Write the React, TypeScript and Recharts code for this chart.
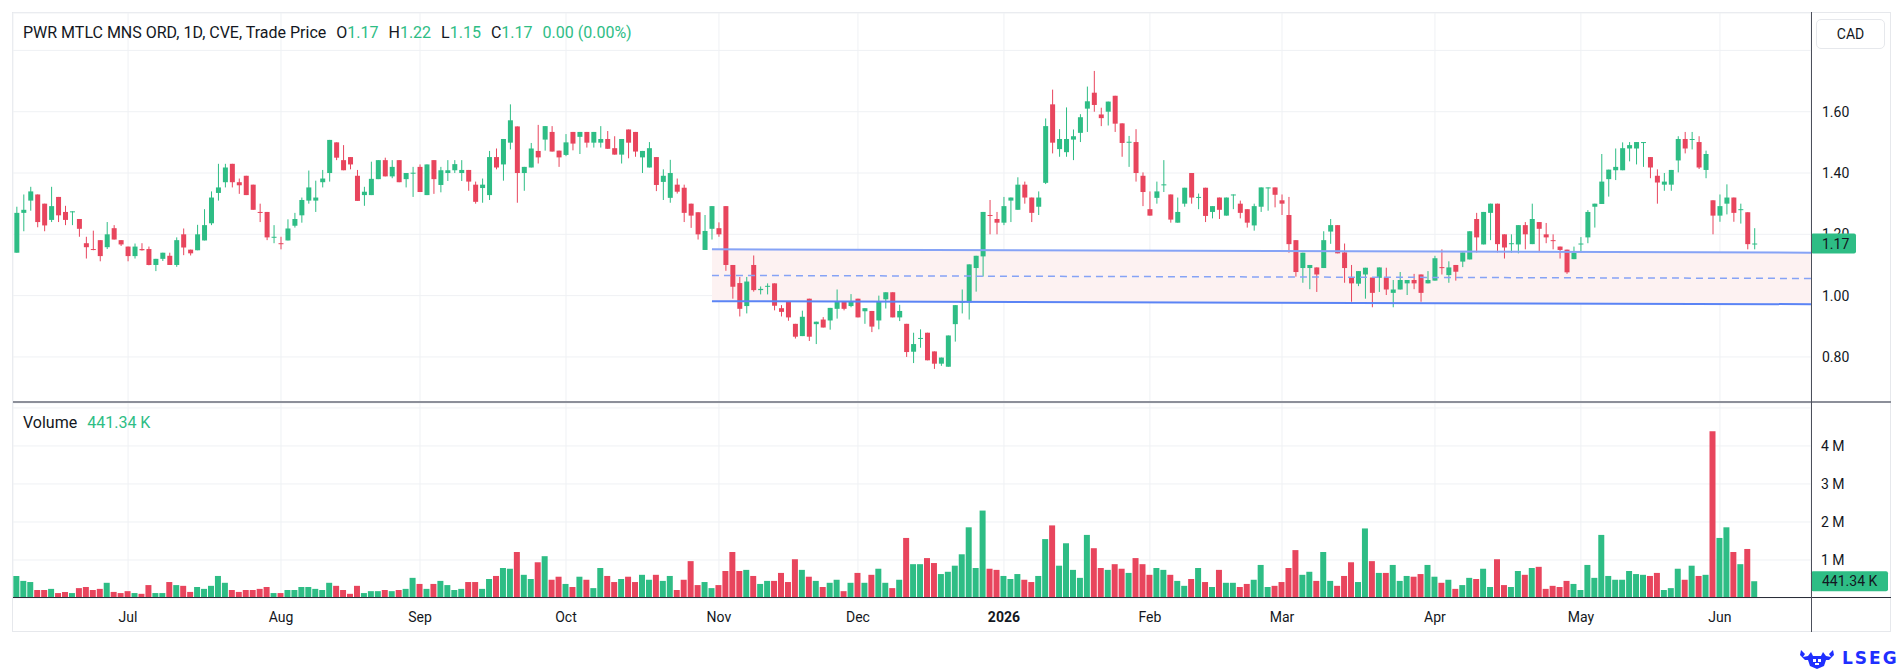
import { ComposedChart, Bar, Area, Line, XAxis, YAxis, CartesianGrid, ReferenceLine, Cell } from 'recharts'

// daily candles, index 0 = first bar on the left
const opens = [
  1.14, 1.27, 1.31, 1.33, 1.30, 1.247, 1.322, 1.273, 1.272, 1.25,
  1.171, 1.152, 1.181, 1.158, 1.22, 1.181, 1.16, 1.129, 1.152, 1.152,
  1.10, 1.12, 1.13, 1.10, 1.20, 1.15, 1.148, 1.18, 1.236, 1.335,
  1.37, 1.43, 1.37, 1.391, 1.362, 1.273, 1.273, 1.19, 1.171, 1.18,
  1.228, 1.262, 1.31, 1.31, 1.37, 1.40, 1.50, 1.442, 1.452, 1.391,
  1.328, 1.328, 1.38, 1.442, 1.389, 1.442, 1.38, 1.399, 1.42, 1.328,
  1.442, 1.361, 1.40, 1.409, 1.40, 1.41, 1.362, 1.351, 1.328, 1.452,
  1.428, 1.499, 1.552, 1.40, 1.418, 1.472, 1.509, 1.534, 1.473, 1.459,
  1.534, 1.518, 1.534, 1.499, 1.499, 1.511, 1.481, 1.46, 1.542, 1.534,
  1.451, 1.418, 1.452, 1.371, 1.319, 1.362, 1.352, 1.30, 1.272, 1.149,
  1.218, 1.22, 1.292, 1.10, 1.041, 0.966, 1.10, 1.018, 1.029, 1.04,
  0.959, 0.98, 0.908, 0.868, 0.99, 0.907, 0.922, 0.919, 0.957, 0.98,
  0.966, 0.99, 0.949, 0.95, 0.919, 0.988, 1.011, 0.929, 0.908, 0.817,
  0.859, 0.879, 0.818, 0.778, 0.768, 0.907, 0.977, 0.978, 1.09, 1.128,
  1.263, 1.25, 1.238, 1.31, 1.28, 1.362, 1.32, 1.29, 1.368, 1.624,
  1.478, 1.468, 1.509, 1.531, 1.61, 1.662, 1.591, 1.60, 1.652, 1.562,
  1.499, 1.501, 1.391, 1.282, 1.319, 1.36, 1.33, 1.238, 1.30, 1.40,
  1.32, 1.352, 1.273, 1.32, 1.261, 1.328, 1.30, 1.282, 1.229, 1.29,
  1.351, 1.353, 1.311, 1.263, 1.181, 1.09, 1.09, 1.092, 1.09, 1.209,
  1.23, 1.141, 1.059, 1.039, 1.069, 1.059, 1.058, 1.059, 1.009, 1.02,
  1.04, 1.051, 1.069, 1.04, 1.049, 1.093, 1.067, 1.10, 1.111, 1.118,
  1.25, 1.167, 1.27, 1.30, 1.20, 1.169, 1.167, 1.23, 1.168, 1.24,
  1.20, 1.181, 1.16, 1.15, 1.119, 1.168, 1.19, 1.29, 1.299, 1.38,
  1.409, 1.409, 1.48, 1.48, 1.499, 1.452, 1.391, 1.362, 1.362, 1.441,
  1.511, 1.509, 1.501, 1.41, 1.311, 1.261, 1.30, 1.32, 1.28, 1.272,
  1.168,
]
const highs = [
  1.29, 1.33, 1.355, 1.33, 1.30, 1.355, 1.322, 1.293, 1.275, 1.25,
  1.192, 1.212, 1.181, 1.24, 1.23, 1.181, 1.16, 1.17, 1.171, 1.16,
  1.12, 1.14, 1.14, 1.19, 1.219, 1.15, 1.231, 1.282, 1.34, 1.43,
  1.43, 1.43, 1.382, 1.391, 1.362, 1.30, 1.273, 1.23, 1.192, 1.249,
  1.27, 1.32, 1.408, 1.375, 1.41, 1.508, 1.50, 1.491, 1.452, 1.41,
  1.355, 1.437, 1.442, 1.45, 1.442, 1.442, 1.40, 1.42, 1.428, 1.428,
  1.442, 1.42, 1.442, 1.442, 1.442, 1.41, 1.372, 1.382, 1.472, 1.48,
  1.511, 1.624, 1.552, 1.42, 1.498, 1.557, 1.553, 1.553, 1.473, 1.527,
  1.534, 1.534, 1.534, 1.534, 1.553, 1.537, 1.52, 1.511, 1.542, 1.534,
  1.472, 1.501, 1.452, 1.412, 1.443, 1.382, 1.362, 1.30, 1.272, 1.263,
  1.292, 1.239, 1.292, 1.10, 1.061, 1.061, 1.131, 1.03, 1.04, 1.04,
  0.969, 0.98, 0.908, 0.951, 0.99, 0.915, 0.93, 0.96, 1.02, 0.98,
  1.005, 0.99, 0.959, 0.95, 1.0, 1.011, 1.011, 0.97, 0.908, 0.879,
  0.89, 0.879, 0.818, 0.798, 0.87, 0.969, 1.02, 1.102, 1.13, 1.273,
  1.312, 1.273, 1.322, 1.32, 1.386, 1.372, 1.32, 1.34, 1.578, 1.672,
  1.543, 1.614, 1.542, 1.592, 1.682, 1.733, 1.613, 1.633, 1.652, 1.562,
  1.521, 1.543, 1.402, 1.34, 1.372, 1.442, 1.33, 1.32, 1.352, 1.40,
  1.333, 1.352, 1.292, 1.32, 1.32, 1.33, 1.31, 1.282, 1.30, 1.353,
  1.353, 1.353, 1.33, 1.322, 1.181, 1.14, 1.10, 1.092, 1.21, 1.25,
  1.23, 1.17, 1.10, 1.08, 1.091, 1.059, 1.092, 1.091, 1.051, 1.077,
  1.051, 1.071, 1.069, 1.08, 1.13, 1.151, 1.112, 1.10, 1.141, 1.21,
  1.27, 1.273, 1.30, 1.30, 1.20, 1.20, 1.23, 1.24, 1.30, 1.24,
  1.237, 1.20, 1.16, 1.15, 1.16, 1.191, 1.279, 1.30, 1.462, 1.411,
  1.48, 1.50, 1.501, 1.501, 1.501, 1.452, 1.412, 1.40, 1.41, 1.52,
  1.534, 1.534, 1.52, 1.473, 1.311, 1.33, 1.363, 1.32, 1.30, 1.272,
  1.22,
]
const lows = [
  1.14, 1.21, 1.277, 1.223, 1.21, 1.24, 1.24, 1.23, 1.23, 1.192,
  1.121, 1.148, 1.112, 1.152, 1.183, 1.162, 1.112, 1.121, 1.147, 1.099,
  1.08, 1.113, 1.10, 1.094, 1.132, 1.131, 1.148, 1.18, 1.23, 1.31,
  1.353, 1.353, 1.332, 1.328, 1.28, 1.24, 1.181, 1.171, 1.151, 1.18,
  1.222, 1.238, 1.30, 1.273, 1.353, 1.372, 1.442, 1.409, 1.412, 1.309,
  1.293, 1.328, 1.38, 1.389, 1.383, 1.37, 1.353, 1.322, 1.338, 1.328,
  1.332, 1.337, 1.374, 1.40, 1.374, 1.342, 1.30, 1.303, 1.312, 1.412,
  1.375, 1.477, 1.303, 1.342, 1.418, 1.431, 1.473, 1.47, 1.42, 1.455,
  1.474, 1.462, 1.483, 1.483, 1.483, 1.479, 1.46, 1.431, 1.448, 1.453,
  1.40, 1.418, 1.341, 1.312, 1.303, 1.333, 1.24, 1.221, 1.183, 1.149,
  1.183, 1.192, 1.081, 0.99, 0.932, 0.942, 1.013, 1.004, 1.004, 0.952,
  0.932, 0.918, 0.86, 0.868, 0.852, 0.842, 0.896, 0.889, 0.925, 0.952,
  0.962, 0.929, 0.908, 0.881, 0.89, 0.958, 0.929, 0.917, 0.80, 0.78,
  0.83, 0.789, 0.761, 0.771, 0.768, 0.85, 0.942, 0.922, 1.013, 1.062,
  1.20, 1.20, 1.23, 1.24, 1.28, 1.30, 1.24, 1.263, 1.364, 1.464,
  1.453, 1.453, 1.442, 1.501, 1.534, 1.60, 1.553, 1.555, 1.534, 1.453,
  1.42, 1.372, 1.292, 1.261, 1.30, 1.338, 1.238, 1.238, 1.29, 1.30,
  1.282, 1.24, 1.252, 1.25, 1.261, 1.282, 1.252, 1.222, 1.212, 1.273,
  1.277, 1.288, 1.263, 1.14, 1.062, 1.042, 1.021, 1.012, 1.09, 1.169,
  1.138, 1.042, 0.98, 1.031, 0.99, 0.962, 1.012, 1.002, 0.962, 1.02,
  1.002, 1.021, 0.98, 1.04, 1.049, 1.069, 1.042, 1.049, 1.093, 1.118,
  1.141, 1.167, 1.181, 1.141, 1.121, 1.14, 1.138, 1.151, 1.168, 1.142,
  1.171, 1.151, 1.121, 1.071, 1.119, 1.14, 1.171, 1.222, 1.299, 1.323,
  1.377, 1.409, 1.438, 1.428, 1.42, 1.383, 1.30, 1.342, 1.342, 1.402,
  1.464, 1.477, 1.413, 1.383, 1.20, 1.241, 1.265, 1.241, 1.235, 1.151,
  1.151,
]
const closes = [
  1.27, 1.28, 1.34, 1.24, 1.229, 1.292, 1.262, 1.247, 1.275, 1.218,
  1.158, 1.150, 1.129, 1.20, 1.183, 1.167, 1.129, 1.16, 1.148, 1.10,
  1.12, 1.14, 1.10, 1.181, 1.157, 1.138, 1.20, 1.23, 1.32, 1.353,
  1.418, 1.37, 1.36, 1.328, 1.28, 1.27, 1.19, 1.192, 1.168, 1.219,
  1.25, 1.312, 1.353, 1.32, 1.382, 1.508, 1.45, 1.409, 1.428, 1.309,
  1.339, 1.381, 1.442, 1.389, 1.42, 1.37, 1.40, 1.401, 1.338, 1.428,
  1.38, 1.409, 1.409, 1.429, 1.41, 1.372, 1.306, 1.362, 1.452, 1.418,
  1.511, 1.572, 1.40, 1.42, 1.48, 1.451, 1.553, 1.47, 1.451, 1.50,
  1.496, 1.534, 1.499, 1.534, 1.511, 1.479, 1.46, 1.511, 1.499, 1.47,
  1.472, 1.481, 1.361, 1.391, 1.40, 1.339, 1.27, 1.261, 1.20, 1.211,
  1.292, 1.20, 1.10, 1.029, 0.957, 1.046, 1.018, 1.022, 1.032, 0.967,
  0.947, 0.929, 0.866, 0.931, 0.866, 0.915, 0.896, 0.96, 0.98, 0.957,
  0.98, 0.929, 0.959, 0.899, 0.98, 1.011, 0.929, 0.95, 0.816, 0.842,
  0.862, 0.789, 0.778, 0.798, 0.87, 0.969, 0.98, 1.102, 1.13, 1.273,
  1.26, 1.238, 1.292, 1.32, 1.362, 1.32, 1.27, 1.32, 1.553, 1.499,
  1.511, 1.511, 1.52, 1.582, 1.634, 1.622, 1.579, 1.633, 1.561, 1.498,
  1.502, 1.40, 1.338, 1.261, 1.34, 1.363, 1.248, 1.273, 1.352, 1.32,
  1.322, 1.26, 1.292, 1.28, 1.32, 1.33, 1.27, 1.238, 1.292, 1.353,
  1.353, 1.329, 1.30, 1.168, 1.077, 1.14, 1.10, 1.069, 1.181, 1.23,
  1.138, 1.09, 1.04, 1.08, 1.091, 1.009, 1.092, 1.02, 1.02, 1.051,
  1.051, 1.04, 1.009, 1.051, 1.122, 1.091, 1.092, 1.078, 1.141, 1.21,
  1.19, 1.273, 1.30, 1.168, 1.157, 1.171, 1.23, 1.20, 1.25, 1.218,
  1.19, 1.179, 1.149, 1.076, 1.14, 1.17, 1.273, 1.30, 1.372, 1.411,
  1.42, 1.481, 1.491, 1.501, 1.501, 1.418, 1.369, 1.372, 1.41, 1.511,
  1.48, 1.511, 1.418, 1.462, 1.261, 1.292, 1.32, 1.27, 1.282, 1.168,
  1.17,
]
// volume in millions
const volumes = [
  0.58, 0.45, 0.42, 0.21, 0.21, 0.24, 0.13, 0.16, 0.13, 0.26,
  0.29, 0.21, 0.24, 0.40, 0.16, 0.13, 0.18, 0.13, 0.11, 0.34,
  0.13, 0.13, 0.42, 0.34, 0.32, 0.16, 0.29, 0.24, 0.32, 0.58,
  0.40, 0.21, 0.16, 0.21, 0.21, 0.24, 0.29, 0.13, 0.13, 0.21,
  0.21, 0.29, 0.29, 0.24, 0.21, 0.40, 0.32, 0.21, 0.11, 0.32,
  0.13, 0.18, 0.18, 0.21, 0.18, 0.21, 0.24, 0.53, 0.37, 0.24,
  0.37, 0.45, 0.34, 0.21, 0.24, 0.42, 0.42, 0.24, 0.50, 0.58,
  0.79, 0.77, 1.21, 0.61, 0.50, 0.94, 1.10, 0.48, 0.56, 0.37,
  0.29, 0.56, 0.48, 0.26, 0.79, 0.58, 0.42, 0.50, 0.56, 0.42,
  0.61, 0.48, 0.61, 0.45, 0.58, 0.21, 0.48, 0.97, 0.34, 0.42,
  0.26, 0.34, 0.71, 1.21, 0.71, 0.74, 0.58, 0.37, 0.45, 0.45,
  0.66, 0.42, 1.02, 0.74, 0.56, 0.45, 0.29, 0.40, 0.48, 0.18,
  0.40, 0.66, 0.40, 0.61, 0.77, 0.40, 0.26, 0.48, 1.58, 0.89,
  0.89, 1.05, 0.92, 0.63, 0.69, 0.85, 1.15, 1.86, 0.79, 2.30,
  0.77, 0.74, 0.58, 0.50, 0.63, 0.48, 0.42, 0.58, 1.55, 1.91,
  0.85, 1.44, 0.74, 0.53, 1.66, 1.31, 0.79, 0.74, 0.89, 0.77,
  0.66, 1.05, 0.89, 0.61, 0.79, 0.74, 0.61, 0.45, 0.32, 0.50,
  0.79, 0.42, 0.29, 0.74, 0.40, 0.40, 0.29, 0.37, 0.48, 0.87,
  0.29, 0.32, 0.42, 0.79, 1.26, 0.61, 0.69, 0.45, 1.21, 0.45,
  0.32, 0.58, 0.94, 0.42, 1.83, 0.97, 0.66, 0.66, 0.87, 0.45,
  0.58, 0.56, 0.63, 0.87, 0.56, 0.40, 0.48, 0.24, 0.34, 0.53,
  0.50, 0.77, 0.29, 1.02, 0.34, 0.29, 0.71, 0.61, 0.79, 0.82,
  0.24, 0.32, 0.29, 0.45, 0.37, 0.21, 0.87, 0.53, 1.66, 0.58,
  0.48, 0.48, 0.71, 0.63, 0.61, 0.58, 0.66, 0.21, 0.26, 0.77,
  0.48, 0.85, 0.58, 0.61, 4.39, 1.58, 1.86, 1.21, 0.89, 1.29,
  0.44134,
]

const monthTicks = [16, 38, 58, 79, 101, 121, 142, 163, 182, 204, 225, 245]
const monthLabels = ['Jul', 'Aug', 'Sep', 'Oct', 'Nov', 'Dec', '2026', 'Feb', 'Mar', 'Apr', 'May', 'Jun']
const priceTicks = [0.8, 1.0, 1.2, 1.4, 1.6, 1.8]
const volumeTicks = [1, 2, 3, 4, 5]

// drawn range box: left anchor on a bar, extended to the right edge
const band = [
  { i: 100, top: 1.151, mid: 1.066, bot: 0.982 },
  { i: 258.1, top: 1.14, mid: 1.056, bot: 0.972 },
]

const GREEN = '#2ebd85'
const RED = '#e8455d'
const TEXT = '#131722'
const GRID = '#eff1f4'
const FONT = 'Roboto, "Noto Sans", sans-serif'
const X_DOMAIN = [-0.55, 258.1]
const PRICE_DOMAIN = [0.653, 1.922]

const rows = opens.map((o, i) => ({ i, o, h: highs[i], l: lows[i], c: closes[i], v: volumes[i] }))
const last = rows[rows.length - 1]

function Candle(props: any) {
  const { x, y, width, height, payload } = props
  const { o, h, l, c } = payload
  const color = c >= o ? GREEN : RED
  const k = h === l ? 0 : height / (h - l)
  const top = y + (h - Math.max(o, c)) * k
  const bottom = y + (h - Math.min(o, c)) * k
  const mid = x + width / 2
  return (
    <g>
      <line x1={mid} x2={mid} y1={y} y2={y + height} stroke={color} strokeWidth={1} />
      <rect x={x} y={top} width={width} height={Math.max(bottom - top, 1)} fill={color} />
    </g>
  )
}

function Tag(props: any) {
  const { viewBox, text, w } = props
  const left = viewBox.x + viewBox.width
  return (
    <g>
      <rect x={left} y={viewBox.y - 10} width={w} height={20} rx={2} fill={GREEN} />
      <text x={left + 11} y={viewBox.y + 5} fill={TEXT} fontSize={14} fontFamily={FONT}>{text}</text>
    </g>
  )
}

const axisTick = { fill: TEXT, fontSize: 14, fontFamily: FONT }

export default function App() {
  return (
    <div style={{ position: 'absolute', left: 0, top: 0, width: 1903, height: 671, background: '#fff', fontFamily: FONT, color: TEXT }}>
      <div style={{ position: 'absolute', left: 12, top: 12, width: 1879, height: 620, border: '1px solid #e6e8ec', boxSizing: 'border-box' }} />

      <div style={{ position: 'absolute', left: 0, top: 0 }}>
        <ComposedChart width={1903} height={402} data={rows} margin={{ top: 13, right: 12, bottom: 0, left: 13 }}>
          <CartesianGrid stroke={GRID} />
          <XAxis dataKey="i" type="number" domain={X_DOMAIN} ticks={monthTicks} allowDataOverflow hide />
          <YAxis
            orientation="right"
            width={80}
            domain={PRICE_DOMAIN}
            ticks={priceTicks}
            allowDataOverflow
            axisLine={false}
            tickLine={false}
            tickMargin={5}
            tick={axisTick}
            tickFormatter={(v: number) => (v > 1.7 ? '' : v.toFixed(2))}
          />
          <Area data={band} dataKey={(d: any) => [d.bot, d.top]} type="linear" stroke="none" fill="#fdf2f2" fillOpacity={1} isAnimationActive={false} />
          <Line data={band} dataKey="top" type="linear" stroke="#86a3f6" strokeWidth={2} dot={false} isAnimationActive={false} />
          <Line data={band} dataKey="mid" type="linear" stroke="#86a3f6" strokeWidth={1.5} strokeDasharray="7 5" dot={false} isAnimationActive={false} />
          <Line data={band} dataKey="bot" type="linear" stroke="#5b84f5" strokeWidth={2} dot={false} isAnimationActive={false} />
          <Bar dataKey={(d: any) => [d.l, d.h]} barSize={5} shape={Candle} isAnimationActive={false} />
        </ComposedChart>
      </div>

      {/* same scales again, on top, so the last-price tag covers the axis text */}
      <div style={{ position: 'absolute', left: 0, top: 0, pointerEvents: 'none' }}>
        <ComposedChart width={1903} height={402} data={rows} margin={{ top: 13, right: 12, bottom: 0, left: 13 }}>
          <XAxis dataKey="i" type="number" domain={X_DOMAIN} allowDataOverflow hide />
          <YAxis orientation="right" width={80} domain={PRICE_DOMAIN} allowDataOverflow axisLine={false} tickLine={false} tick={false} />
          <ReferenceLine y={last.c} stroke="none" label={<Tag text={last.c.toFixed(2)} w={45} />} />
        </ComposedChart>
      </div>

      <div style={{ position: 'absolute', left: 0, top: 403 }}>
        <ComposedChart width={1903} height={230} data={rows} margin={{ top: 0, right: 12, bottom: 0, left: 13 }}>
          <CartesianGrid stroke={GRID} />
          <XAxis
            dataKey="i"
            type="number"
            domain={X_DOMAIN}
            ticks={monthTicks}
            allowDataOverflow
            height={35}
            axisLine={false}
            tickLine={false}
            tickMargin={6}
            tick={(p: any) => {
              const label = monthLabels[monthTicks.indexOf(p.payload.value)]
              return (
                <text x={p.x} y={p.y + 12} textAnchor="middle" fill={TEXT} fontSize={14} fontFamily={FONT} fontWeight={label === '2026' ? 700 : 400}>
                  {label}
                </text>
              )
            }}
          />
          <YAxis
            orientation="right"
            width={80}
            domain={[0, 5.13]}
            ticks={volumeTicks}
            allowDataOverflow
            axisLine={false}
            tickLine={false}
            tickMargin={4}
            tick={axisTick}
            tickFormatter={(v: number) => (v > 4.5 ? '' : `${v} M`)}
          />
          <Bar dataKey="v" barSize={6} isAnimationActive={false}>
            {rows.map((r) => (
              <Cell key={r.i} fill={r.c >= r.o ? GREEN : RED} />
            ))}
          </Bar>
          <ReferenceLine y={last.v} stroke="none" label={<Tag text="441.34 K" w={77} />} />
        </ComposedChart>
      </div>

      {/* pane separators and price scale border */}
      <div style={{ position: 'absolute', left: 13, top: 401, width: 1878, height: 2, background: '#8c8f99' }} />
      <div style={{ position: 'absolute', left: 13, top: 597, width: 1878, height: 1, background: '#2a2e39' }} />
      <div style={{ position: 'absolute', left: 1811, top: 12, width: 1, height: 620, background: '#4c505b' }} />

      <div style={{ position: 'absolute', left: 23, top: 23, fontSize: 16, lineHeight: '20px', whiteSpace: 'nowrap', display: 'flex', gap: 10 }}>
        <span>PWR MTLC MNS ORD, 1D, CVE, Trade Price</span>
        <span>O<span style={{ color: GREEN }}>1.17</span></span>
        <span>H<span style={{ color: GREEN }}>1.22</span></span>
        <span>L<span style={{ color: GREEN }}>1.15</span></span>
        <span>C<span style={{ color: GREEN }}>1.17</span></span>
        <span style={{ color: GREEN }}>0.00 (0.00%)</span>
      </div>

      <div style={{ position: 'absolute', left: 23, top: 413, fontSize: 16, lineHeight: '20px', whiteSpace: 'nowrap', display: 'flex', gap: 10 }}>
        <span>Volume</span>
        <span style={{ color: GREEN }}>441.34 K</span>
      </div>

      <div style={{ position: 'absolute', left: 1816, top: 19, width: 69, height: 30, border: '1px solid #e6e8ec', borderRadius: 5, boxSizing: 'border-box', fontSize: 14, lineHeight: '28px', textAlign: 'center', background: '#fff' }}>
        CAD
      </div>

      <svg style={{ position: 'absolute', left: 1799, top: 648 }} width={36} height={22} viewBox="0 0 36 22">
        <g fill="#1f2fff">
          <path d="M2 2 L6 6 L4 9 L9 8 L12 4 L14 8 L22 8 L24 4 L27 8 L32 9 L30 6 L34 2 L35 7 L30 12 L27 12 L25 18 L18 21 L11 18 L9 12 L6 12 L1 7 Z" />
        </g>
        <g fill="#fff">
          <rect x={14} y={11} width={3} height={3} />
          <rect x={19} y={11} width={3} height={3} />
          <rect x={16} y={15} width={4} height={2} />
        </g>
      </svg>
      <div style={{ position: 'absolute', left: 1842, top: 648, fontSize: 17, fontWeight: 700, color: '#1f2fff', letterSpacing: 2, fontFamily: '"DejaVu Sans", sans-serif' }}>
        LSEG
      </div>
    </div>
  )
}
